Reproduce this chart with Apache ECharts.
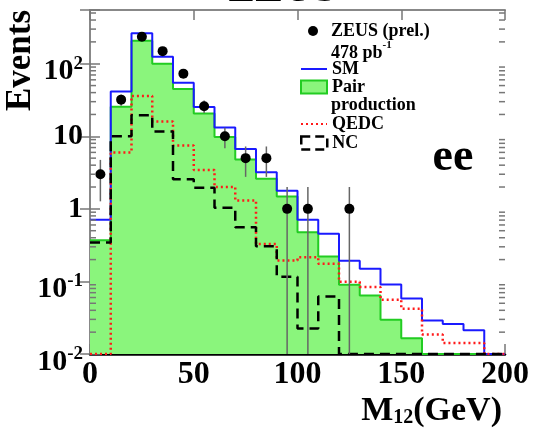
<!DOCTYPE html>
<html><head><meta charset="utf-8">
<script src="https://cdn.jsdelivr.net/npm/echarts@6/dist/echarts.min.js"></script>
<style>html,body{margin:0;padding:0;background:#fff}#c{width:533px;height:429px}</style>
</head><body><div id="c"></div>
<script>
// ---- data ----
const binEdges = [0,10,20,30,40,50,60,70,80,90,100,110,120,130,140,150,160,170,180,190];
const binEnd = 200;
const pairProduction = [0.37,25.5,207,100,45,20.6,9.8,4.8,2.6,1.48,0.478,0.221,0.09,0.064,0.0297,0.0165,0,0,0,0];
const smTotal = [0.71,41.3,262,125,54.5,25.4,13.2,6.7,3.2,1.77,0.71,0.454,0.193,0.149,0.091,0.058,0.029,0.0259,0.0212,0];
const qedc = [0,6.0,36,16,7.45,3.42,2.0,1.3,0.327,0.195,0.216,0.175,0.099,0.084,0.056,0.042,0.0185,0.0142,0.0142,0];
const nc = [0.345,10,19.5,11.6,2.55,1.95,1.04,0.556,0.305,0.116,0.0224,0.062,0,0,0,0,0,0,0,0];
const dataX = [5,15,25,35,45,55,65,75,85,95,105,125];
const dataN = [3,32,236,149,73,26,10,5,5,1,1,1];
const dataErr = [1.73,5.66,15.4,12.2,8.5,5.1,3.16,2.24,2.24,1,1,1];
const xTickValues = [0,50,100,150,200];
const yMinorTicks = [0.02,0.03,0.04,0.05,0.06,0.07,0.08,0.09,0.2,0.3,0.4,0.5,0.6,0.7,0.8,0.9,2,3,4,5,6,7,8,9,20,30,40,50,60,70,80,90,200,300,400,500];

const FONT = 'Liberation Serif';
const yMin = 0.01, yMax = 550;

function steps(vals) {
  const pts = binEdges.map((e, i) => [e, vals[i] > 0 ? vals[i] : yMin]);
  const last = vals[vals.length - 1];
  pts.push([binEnd, last > 0 ? last : yMin]);
  return pts;
}

const chart = echarts.init(document.getElementById('c'), null, {renderer: 'canvas'});
const bold = {fontFamily: FONT, fontWeight: 'bold', color: '#000'};
const legText = Object.assign({fontSize: 18, lineHeight: 20}, bold);

const option = {
  animation: false,
  backgroundColor: '#fff',
  grid: {left: 90, right: 28, top: 10, bottom: 75, containLabel: false, outerBoundsMode: 'none'},
  xAxis: [{
    type: 'value', min: xTickValues[0], max: xTickValues[xTickValues.length-1], interval: 50,
    axisLine: {show: true, lineStyle: {color: '#000', width: 2.5}},
    axisTick: {show: true, inside: true, length: 10, lineStyle: {color: '#777', width: 1.5}},
    splitLine: {show: false},
    axisLabel: Object.assign({fontSize: 32, lineHeight: 32, margin: 5}, bold),
    name: '{m|M}{s|12}{m|(GeV)}', nameLocation: 'end', nameGap: -3,
    nameTextStyle: {align: 'right', verticalAlign: 'top', padding: [40,0,0,0],
      rich: {
        m: Object.assign({fontSize: 34, lineHeight: 34, padding: [0,0,8,0], verticalAlign: 'top'}, bold),
        s: Object.assign({fontSize: 20, lineHeight: 20, verticalAlign: 'bottom'}, bold)
      }}
  }, {
    type: 'value', position: 'top', min: 0, max: 200, interval: 50,
    axisLine: {show: true, lineStyle: {color: '#888', width: 2}},
    axisTick: {show: true, inside: true, length: 10, lineStyle: {color: '#777', width: 1.5}},
    axisLabel: {show: false}, splitLine: {show: false}
  }],
  yAxis: [{
    type: 'log', logBase: 10, min: yMin, max: yMax, splitNumber: 6,
    axisLine: {show: true, lineStyle: {color: '#888', width: 2}},
    axisTick: {show: true, inside: true, length: 10, lineStyle: {color: '#777', width: 1.5}},
    splitLine: {show: false},
    axisLabel: {
      margin: 7,
      formatter: function (v) {
        const l = Math.log10(v), e = Math.round(l);
        if (Math.abs(l - e) > 1e-6) return '';
        if (e === 0) return '{m|1}';
        if (e === 1) return '{m|10}';
        return '{b|10}{s|' + e + '}';
      },
      rich: {
        m: Object.assign({fontSize: 30, lineHeight: 30}, bold),
        b: Object.assign({fontSize: 30, lineHeight: 30, verticalAlign: 'bottom'}, bold),
        s: Object.assign({fontSize: 19, lineHeight: 46, verticalAlign: 'middle'}, bold)
      }
    },
    name: 'Events', nameLocation: 'end', nameGap: 0, nameRotate: 90,
    nameTextStyle: Object.assign({fontSize: 35, align: 'right', verticalAlign: 'bottom', padding: [0,0,52,0]}, bold)
  }, {
    type: 'log', logBase: 10, min: yMin, max: yMax, splitNumber: 6, position: 'right',
    axisLine: {show: true, lineStyle: {color: '#888', width: 2}},
    axisTick: {show: true, inside: true, length: 10, lineStyle: {color: '#777', width: 1.5}},
    axisLabel: {show: false}, splitLine: {show: false}
  }],
  legend: [
    {data: [{name: 'ZEUS (prel.)', icon: 'circle', itemStyle: {color: '#000', opacity: 1}}], left: 308, top: 21, padding: 0, itemWidth: 26, itemHeight: 10,
      textStyle: legText},
    {data: [{name: 'SM', itemStyle: {opacity: 0}}], left: 300, top: 59, padding: 0, itemWidth: 26, itemHeight: 14,
      textStyle: legText},
    {data: [{name: 'Pair production', icon: 'rect', itemStyle: {color: '#8af57c', borderColor: '#22cc22', borderWidth: 2}}],
      formatter: function () { return 'Pair'; },
      left: 300, top: 77, padding: 0, itemWidth: 26, itemHeight: 13, textStyle: legText},
    {data: [{name: 'QEDC', itemStyle: {opacity: 0}}], left: 300, top: 114, padding: 0, itemWidth: 26, itemHeight: 14,
      textStyle: legText},
    {data: [{name: 'NC', icon: 'rect', itemStyle: {color: 'rgba(0,0,0,0)', borderColor: '#000', borderWidth: 2.5, borderType: [9,5]}}],
      left: 300, top: 133, padding: 0, itemWidth: 26, itemHeight: 13, textStyle: legText}
  ],
  graphic: [
    {type: 'text', left: 331, top: 40, style: {text: '{a|478 pb}{s|-1}',
      rich: {a: Object.assign({fontSize: 18, lineHeight: 20, verticalAlign: 'bottom'}, bold),
             s: Object.assign({fontSize: 11, lineHeight: 22, verticalAlign: 'top'}, bold)}}},
    {type: 'text', left: 331, top: 95, style: {text: 'production', fontFamily: FONT, fontWeight: 'bold', fontSize: 18, lineHeight: 20, fill: '#000'}},
    {type: 'text', x: 453, y: 158, style: {text: 'ee', fontFamily: FONT, fontWeight: 'bold', fontSize: 46, fill: '#000', align: 'center', verticalAlign: 'middle'}},
    {type: 'text', x: 282, y: -10, style: {text: 'ZEUS', fontFamily: FONT, fontWeight: 'bold', fontSize: 42, fill: '#000', align: 'center', verticalAlign: 'middle'}}
  ],
  series: [
    {name: 'Pair production', type: 'line', step: 'end', symbol: 'none', data: steps(pairProduction),
      lineStyle: {color: '#22cc22', width: 2}, itemStyle: {color: '#22cc22'},
      areaStyle: {color: '#8af57c', opacity: 1, origin: 'start'}, z: 2, clip: true},
    {name: 'SM', type: 'line', step: 'end', symbol: 'none', data: steps(smTotal),
      lineStyle: {color: '#1a1aff', width: 2}, itemStyle: {color: '#1a1aff'}, z: 3, clip: true},
    {name: 'QEDC', type: 'line', step: 'end', symbol: 'none', data: steps(qedc),
      lineStyle: {color: '#ff1a1a', width: 2.5, type: [2,3]}, itemStyle: {color: '#ff1a1a'}, z: 3, clip: true},
    {name: 'NC', type: 'line', step: 'end', symbol: 'none', data: steps(nc),
      lineStyle: {color: '#000', width: 2.5, type: [10,6]}, itemStyle: {color: '#000'}, z: 3, clip: true},
    {name: 'minorTicks', type: 'custom', silent: true, z: 6, clip: false,
      data: yMinorTicks.map(v => [0, v]),
      renderItem: function (params, api) {
        const v = api.value(1);
        const pl = api.coord([0, v]);
        const pr = api.coord([200, v]);
        const st = {stroke: '#777', lineWidth: 1.5};
        return {type: 'group', children: [
          {type: 'line', shape: {x1: pl[0], y1: pl[1], x2: pl[0] + 6, y2: pl[1]}, style: st},
          {type: 'line', shape: {x1: pr[0], y1: pr[1], x2: pr[0] - 6, y2: pr[1]}, style: st}
        ]};
      }},
    {name: 'errors', type: 'custom', silent: true, z: 4, clip: true,
      data: dataX.map((x, i) => [x, dataN[i], dataErr[i]]),
      renderItem: function (params, api) {
        const x = api.value(0), v = api.value(1), e = api.value(2);
        const hi = api.coord([x, v + e]);
        const lo = api.coord([x, Math.max(v - e, yMin)]);
        return {type: 'line', shape: {x1: hi[0], y1: hi[1], x2: lo[0], y2: lo[1]}, style: {stroke: '#666', lineWidth: 1.5}};
      }},
    {name: 'ZEUS (prel.)', type: 'scatter', symbol: 'circle', symbolSize: 10,
      data: dataX.map((x, i) => [x, dataN[i]]), itemStyle: {color: '#000', opacity: 1}, z: 5}
  ]
};
chart.setOption(option);
</script>
</body></html>
